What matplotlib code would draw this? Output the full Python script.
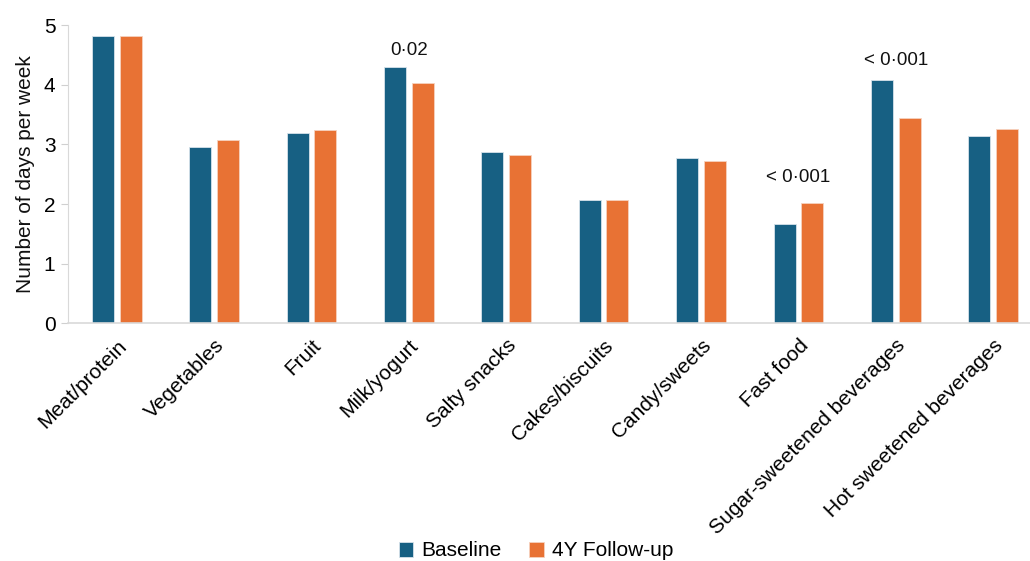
import numpy as np
import matplotlib
matplotlib.use("Agg")
import matplotlib.pyplot as plt

plt.rcParams["font.family"] = ["Liberation Sans", "DejaVu Sans"]

categories = ["Meat/protein", "Vegetables", "Fruit", "Milk/yogurt", "Salty snacks",
              "Cakes/biscuits", "Candy/sweets", "Fast food",
              "Sugar-sweetened beverages", "Hot sweetened beverages"]
baseline = [4.82, 2.96, 3.19, 4.29, 2.87, 2.07, 2.77, 1.67, 4.08, 3.14]
followup = [4.82, 3.08, 3.24, 4.03, 2.82, 2.07, 2.73, 2.01, 3.44, 3.26]
p_labels = {3: "0\u00b702", 7: "< 0\u00b7001", 8: "< 0\u00b7001"}
p_label_y = {3: 4.58, 7: 2.45, 8: 4.41}

BLUE = "#176083"
ORANGE = "#e87234"

fig = plt.figure(figsize=(10.30, 5.61), dpi=100)
ax = fig.add_axes([0.066, 0.4234, 0.9456, 0.532])

x = np.arange(len(categories))
off = 0.142
w = 0.226
ax.bar(x - off, baseline, w, color=BLUE, edgecolor="#d6e2ea", linewidth=0.6, label="Baseline")
ax.bar(x + off, followup, w, color=ORANGE, edgecolor="#f6d2bf", linewidth=0.6, label="4Y Follow-up")

for i, txt in p_labels.items():
    ax.text(x[i], p_label_y[i], txt, ha="center", va="center", fontsize=13.5, color="#111111")

ax.set_xlim(-0.5, len(categories) - 0.5)
ax.set_ylim(0, 5)
ax.set_yticks(range(6))
ax.set_ylabel("Number of days per week", fontsize=15, color="#111111", labelpad=6)
ax.set_xticks(x)
ax.set_xticklabels(categories, rotation=45, ha="right", rotation_mode="anchor", fontsize=15)
ax.tick_params(axis="x", length=0, pad=9)
ax.tick_params(axis="y", length=5, color="#d0d0d0", labelsize=15, pad=4)

for s in ["top", "right"]:
    ax.spines[s].set_visible(False)
ax.spines["left"].set_color("#d9d9d9")
ax.spines["bottom"].set_color("#d9d9d9")
ax.spines["bottom"].set_linewidth(1.2)

fig.legend(loc="center", bbox_to_anchor=(536 / 1030, 1 - 551 / 561), ncol=2, frameon=False,
           fontsize=15, handlelength=0.7, handleheight=0.7, handletextpad=0.4,
           columnspacing=1.3)

fig.savefig("out.png", dpi=100)
